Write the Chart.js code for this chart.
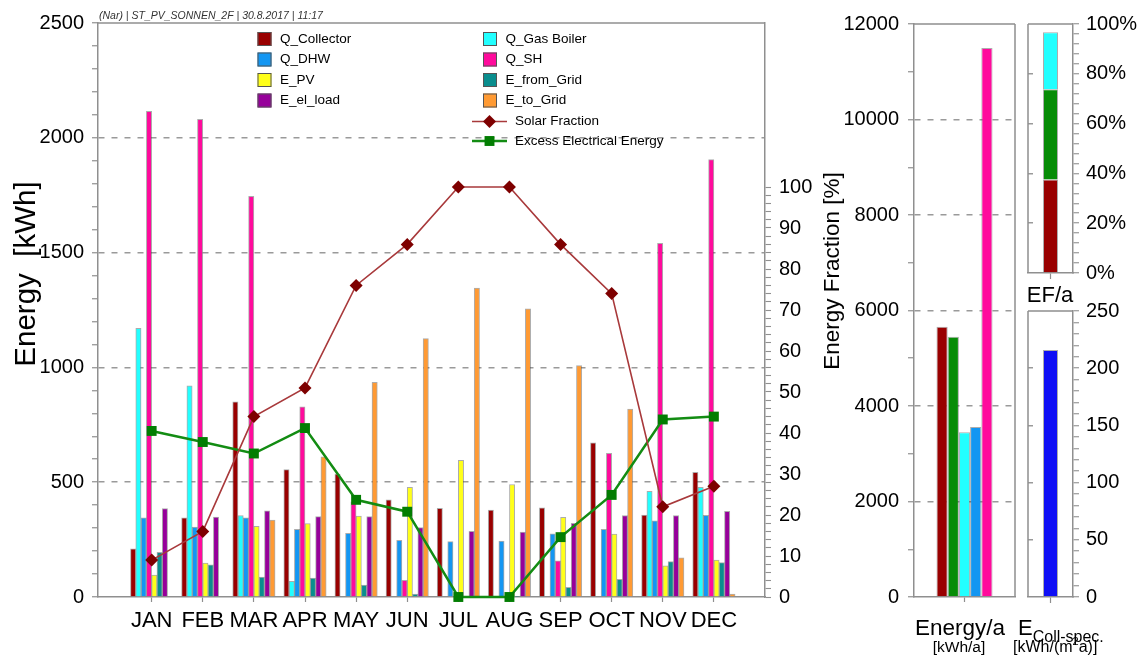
<!DOCTYPE html>
<html>
<head>
<meta charset="utf-8">
<script src="https://cdn.jsdelivr.net/npm/chart.js@4/dist/chart.umd.min.js"></script>
<style>
  html, body { margin: 0; padding: 0; background: #fff; }
  #wrap { position: relative; width: 1142px; height: 660px; overflow: hidden; }
  #wrap canvas { position: absolute; left: 0; top: 0; pointer-events: none; }
</style>
</head>
<body>
<div id="wrap">
  <canvas id="cMain" width="1142" height="660"></canvas>
  <canvas id="cYear" width="1142" height="660"></canvas>
  <canvas id="cEF" width="1142" height="660"></canvas>
  <canvas id="cSpec" width="1142" height="660"></canvas>
</div>
<script>
// ---- monthly values [kWh] ----
const months = ['JAN', 'FEB', 'MAR', 'APR', 'MAY', 'JUN', 'JUL', 'AUG', 'SEP', 'OCT', 'NOV', 'DEC'];
const qCollector = [210, 345, 850, 555, 535, 423, 386, 379, 388, 672, 357, 543];
const qGasBoiler = [1170, 920, 355, 68, 0, 0, 0, 0, 0, 0, 460, 478];
const qDHW       = [345, 305, 345, 295, 277, 247, 241, 244, 275, 295, 332, 356];
const qSH        = [2115, 2080, 1745, 828, 415, 73, 0, 0, 157, 626, 1540, 1905];
const ePV        = [95, 148, 308, 320, 352, 478, 595, 490, 347, 274, 136, 161];
const eFromGrid  = [195, 140, 87, 82, 52, 13, 0, 3, 42, 77, 154, 150];
const eElLoad    = [385, 348, 375, 350, 350, 302, 286, 283, 321, 355, 355, 373];
const eToGrid    = [0, 0, 335, 610, 935, 1125, 1345, 1255, 1008, 818, 171, 13];
// ---- monthly fractions [%] ----
const solarFraction    = [9, 16, 44, 51, 76, 86, 100, 100, 86, 74, 22, 27];
const excessElectrical = [40.5, 37.8, 35.0, 41.2, 23.7, 20.8, 0, 0, 14.6, 24.9, 43.3, 44.0];
// ---- annual summary ----
const annualNames  = ['Q_Collector', 'Q_Solar', 'Q_Gas Boiler', 'Q_DHW', 'Q_SH'];
const annualEnergy = [5660, 5450, 3450, 3560, 11500];      // kWh/a
const efNames      = ['EF_Collector', 'EF_Solar', 'EF_Gas Boiler'];
const efShares     = [37.6, 36.2, 22.9];                    // %
const collSpec     = [216];                                 // kWh/(m2 a)

// ---- styling ----
const FONT = "'Liberation Sans', Arial, Helvetica, sans-serif";
const AXIS = '#8f8f8f';
const GRID = '#9a9a9a';
const EDGE = 'rgba(70,70,70,0.45)';
Chart.defaults.font.family = FONT;
Chart.defaults.color = '#000';

const barSeries = [
  { label: 'Q_Collector',  values: qCollector, color: '#990000' },
  { label: 'Q_Gas Boiler', values: qGasBoiler, color: '#22FFFF' },
  { label: 'Q_DHW',        values: qDHW,       color: '#1396F2' },
  { label: 'Q_SH',         values: qSH,        color: '#FF0A9C' },
  { label: 'E_PV',         values: ePV,        color: '#FFFF1A' },
  { label: 'E_from_Grid',  values: eFromGrid,  color: '#0A8E8E' },
  { label: 'E_el_load',    values: eElLoad,    color: '#96009A' },
  { label: 'E_to_Grid',    values: eToGrid,    color: '#FF9A33' }
];
const annualColors = ['#990000', '#078C07', '#22FFFF', '#1396F2', '#FF0A9C'];
const efColors = ['#990000', '#078C07', '#22FFFF'];

const toXY = arr => arr.map((v, i) => ({ x: i, y: v }));
const fixW = w => s => { s.width = w; };
const fixH = h => s => { s.height = h; };

// outline on chosen sides of the plot area
const frame = sides => ({
  id: 'frame',
  afterDraw(chart) {
    const { ctx, chartArea: a } = chart;
    ctx.save();
    ctx.strokeStyle = AXIS;
    ctx.lineWidth = 1.5;
    ctx.beginPath();
    if (sides.includes('top'))   { ctx.moveTo(a.left, a.top);  ctx.lineTo(a.right, a.top); }
    if (sides.includes('left'))  { ctx.moveTo(a.left, a.top);  ctx.lineTo(a.left, a.bottom); }
    if (sides.includes('right')) { ctx.moveTo(a.right, a.top); ctx.lineTo(a.right, a.bottom); }
    ctx.stroke();
    ctx.restore();
  }
});

function marker(ctx, style, x, y, r) {
  ctx.beginPath();
  if (style === 'rectRot') {
    ctx.moveTo(x - r, y); ctx.lineTo(x, y - r); ctx.lineTo(x + r, y); ctx.lineTo(x, y + r);
  } else {
    const h = r * Math.SQRT1_2;
    ctx.rect(x - h, y - h, 2 * h, 2 * h);
  }
  ctx.closePath();
  ctx.fill();
}

// two-column key inside the monthly plot
const seriesKey = {
  id: 'seriesKey',
  afterDraw(chart) {
    const ctx = chart.ctx;
    const ds = chart.data.datasets;
    const colX = [257.5, 483];
    const rowY = [39, 59.5, 80, 100.5];
    const box = 14;
    ctx.save();
    ctx.font = `13.5px ${FONT}`;
    ctx.textBaseline = 'middle';
    ds.filter(d => d.type === 'bar').forEach((d, i) => {
      const x = colX[i % 2], y = rowY[Math.floor(i / 2)];
      ctx.fillStyle = d.backgroundColor;
      ctx.fillRect(x, y - box / 2, box, box);
      ctx.strokeStyle = '#555';
      ctx.lineWidth = 1;
      ctx.strokeRect(x + 0.5, y - box / 2 + 0.5, box - 1, box - 1);
      ctx.fillStyle = '#000';
      ctx.fillText(d.label, x + box + 8.5, y);
    });
    ds.filter(d => d.type === 'line').forEach((d, i) => {
      const y = [121.5, 141][i];
      ctx.strokeStyle = d.borderColor;
      ctx.lineWidth = d.borderWidth;
      ctx.beginPath(); ctx.moveTo(472, y); ctx.lineTo(507, y); ctx.stroke();
      ctx.fillStyle = d.pointBackgroundColor;
      marker(ctx, d.pointStyle, 489.5, y, d.pointRadius);
      ctx.fillStyle = '#000';
      ctx.fillText(d.label, 515, y);
    });
    ctx.restore();
  }
};

// ---------------- monthly chart ----------------
new Chart(document.getElementById('cMain'), {
  type: 'bar',
  data: {
    datasets: [
      ...barSeries.map(s => ({
        type: 'bar', label: s.label, data: toXY(s.values),
        backgroundColor: s.color, borderColor: EDGE, borderWidth: 1,
        barThickness: 5.3, xAxisID: 'x', yAxisID: 'y', order: 1
      })),
      {
        type: 'line', label: 'Solar Fraction', data: toXY(solarFraction),
        xAxisID: 'x', yAxisID: 'y1', order: 0, clip: false,
        borderColor: '#A8393B', borderWidth: 1.6, tension: 0,
        pointStyle: 'rectRot', pointRadius: 6.5, pointBorderWidth: 0,
        pointBackgroundColor: '#7E0000', pointBorderColor: '#7E0000'
      },
      {
        type: 'line', label: 'Excess Electrical Energy', data: toXY(excessElectrical),
        xAxisID: 'x', yAxisID: 'y1', order: 0, clip: false,
        borderColor: '#138C13', borderWidth: 2.5, tension: 0,
        pointStyle: 'rect', pointRadius: 7, pointBorderWidth: 0,
        pointBackgroundColor: '#027D02', pointBorderColor: '#027D02'
      }
    ]
  },
  options: {
    responsive: false, animation: false, devicePixelRatio: 1,
    layout: { padding: { top: 23, left: 0, right: 0, bottom: 0 } },
    plugins: { legend: { display: false }, tooltip: { enabled: false } },
    scales: {
      x: {
        type: 'linear', min: -1.05, max: 12, offset: false, afterFit: fixH(63),
        ticks: {
          stepSize: 1, includeBounds: false, autoSkip: false, maxRotation: 0, minRotation: 0,
          font: { size: 22 }, color: '#000', padding: 6,
          callback: v => months[Math.round(v)] || ''
        },
        grid: {
          offset: false, drawOnChartArea: false, tickLength: 5, tickWidth: 1.2,
          tickColor: c => (c.tick && months[Math.round(c.tick.value)]) ? AXIS : 'rgba(0,0,0,0)'
        },
        border: { color: AXIS, width: 1.5 }
      },
      y: {
        type: 'linear', position: 'left', min: 0, max: 2500, afterFit: fixW(98),
        ticks: {
          stepSize: 100, autoSkip: false, font: { size: 20 }, color: '#000', padding: 8,
          callback: v => (v % 500 === 0 ? String(v) : '')
        },
        grid: {
          lineWidth: 1.5, tickLength: 6, tickWidth: 1.2, tickColor: AXIS,
          color: c => (c.tick && c.tick.value % 500 === 0 && c.tick.value > 0 && c.tick.value < 2500) ? GRID : 'rgba(0,0,0,0)'
        },
        border: { color: AXIS, width: 1.5, dash: [6, 7] }
      },
      y1: {
        type: 'linear', position: 'right', min: 0, max: 140, afterFit: fixW(377),
        ticks: {
          stepSize: 2, autoSkip: false, font: { size: 20 }, color: '#000', padding: 8,
          callback: v => (v % 10 === 0 && v <= 100 ? String(v) : '')
        },
        grid: {
          drawOnChartArea: false, tickLength: 6, tickWidth: 1.1,
          tickColor: c => (c.tick && c.tick.value <= 100) ? AXIS : 'rgba(0,0,0,0)'
        },
        border: { color: AXIS, width: 1.5 }
      }
    }
  },
  plugins: [frame(['top']), seriesKey]
});

// ---------------- annual energy ----------------
new Chart(document.getElementById('cYear'), {
  type: 'bar',
  data: {
    labels: [''],
    datasets: annualEnergy.map((v, i) => ({
      label: annualNames[i], data: [v], backgroundColor: annualColors[i],
      borderColor: EDGE, borderWidth: 1, barPercentage: 1, categoryPercentage: 0.555
    }))
  },
  options: {
    responsive: false, animation: false, devicePixelRatio: 1,
    layout: { padding: { top: 24, left: 0, right: 127, bottom: 0 } },
    plugins: { legend: { display: false }, tooltip: { enabled: false } },
    scales: {
      x: {
        afterFit: fixH(63), ticks: { display: false },
        grid: { offset: false, drawOnChartArea: false, tickLength: 5, tickColor: AXIS, tickWidth: 1.2 },
        border: { color: AXIS, width: 1.5 }
      },
      y: {
        min: 0, max: 12000, afterFit: fixW(914),
        ticks: {
          stepSize: 1000, autoSkip: false, font: { size: 20 }, color: '#000', padding: 9,
          callback: v => (v % 2000 === 0 ? String(v) : '')
        },
        grid: {
          lineWidth: 1.5, tickLength: 6, tickWidth: 1.2, tickColor: AXIS,
          color: c => (c.tick && c.tick.value % 2000 === 0 && c.tick.value > 0 && c.tick.value < 12000) ? GRID : 'rgba(0,0,0,0)'
        },
        border: { color: AXIS, width: 1.5, dash: [6, 7] }
      }
    }
  },
  plugins: [frame(['top', 'right'])]
});

// ---------------- energy fractions (stacked) ----------------
new Chart(document.getElementById('cEF'), {
  type: 'bar',
  data: {
    labels: [''],
    datasets: efShares.map((v, i) => ({
      label: efNames[i], data: [v], backgroundColor: efColors[i],
      borderColor: EDGE, borderWidth: 1, barPercentage: 1, categoryPercentage: 0.333
    }))
  },
  options: {
    responsive: false, animation: false, devicePixelRatio: 1,
    layout: { padding: { top: 24, left: 1028, right: 0, bottom: 0 } },
    plugins: { legend: { display: false }, tooltip: { enabled: false } },
    scales: {
      x: {
        stacked: true, afterFit: fixH(387), ticks: { display: false },
        grid: { offset: false, drawOnChartArea: false, tickLength: 6, tickColor: AXIS, tickWidth: 1.2 },
        border: { color: AXIS, width: 1.5 }
      },
      y: {
        stacked: true, position: 'right', min: 0, max: 100, afterFit: fixW(69),
        ticks: {
          stepSize: 4, autoSkip: false, font: { size: 20 }, color: '#000', padding: 7,
          callback: v => (v % 20 === 0 ? v + '%' : '')
        },
        grid: {
          lineWidth: 1.5, tickLength: 6, tickWidth: 1.1, tickColor: AXIS,
          color: c => (c.tick && c.tick.value % 20 === 0 && c.tick.value > 0 && c.tick.value < 100) ? GRID : 'rgba(0,0,0,0)'
        },
        border: { color: AXIS, width: 1.5, dash: [5, 80] }
      }
    }
  },
  plugins: [frame(['top', 'left'])]
});

// ---------------- specific collector yield + panel captions ----------------
const captions = {
  id: 'captions',
  afterDraw(chart) {
    const ctx = chart.ctx;
    ctx.save();

    ctx.font = `italic 10.5px ${FONT}`;
    ctx.fillStyle = '#333';
    ctx.textAlign = 'left';
    ctx.textBaseline = 'alphabetic';
    ctx.fillText('(Nar) | ST_PV_SONNEN_2F | 30.8.2017 | 11:17', 99, 19);
    ctx.fillStyle = '#000';

    // rotated axis titles
    ctx.save();
    ctx.translate(35, 274);
    ctx.rotate(-Math.PI / 2);
    ctx.textAlign = 'center';
    ctx.font = `29.5px ${FONT}`;
    ctx.fillText('Energy  [kWh]', 0, 0);
    ctx.restore();

    ctx.save();
    ctx.translate(839, 271);
    ctx.rotate(-Math.PI / 2);
    ctx.textAlign = 'center';
    ctx.font = `22.5px ${FONT}`;
    ctx.fillText('Energy Fraction [%]', 0, 0);
    ctx.restore();

    ctx.textAlign = 'center';
    ctx.font = `22.5px ${FONT}`;
    ctx.fillText('Energy/a', 960, 635);
    ctx.font = `15.5px ${FONT}`;
    ctx.fillText('[kWh/a]', 959, 652);
    ctx.font = `22px ${FONT}`;
    ctx.fillText('EF/a', 1050, 302);

    // E with subscript, unit with superscript
    ctx.textAlign = 'left';
    const runs = (x, y, parts) => {
      let cx = x;
      parts.forEach(p => {
        ctx.font = `${p.size}px ${FONT}`;
        ctx.fillText(p.text, cx, y + (p.dy || 0));
        cx += ctx.measureText(p.text).width;
      });
    };
    runs(1018, 635, [{ text: 'E', size: 22 }, { text: 'Coll-spec.', size: 16, dy: 7 }]);
    runs(1013, 652, [{ text: '[kWh/(m', size: 16 }, { text: '2', size: 11, dy: -7 }, { text: 'a)]', size: 16 }]);
    ctx.restore();
  }
};

new Chart(document.getElementById('cSpec'), {
  type: 'bar',
  data: {
    labels: [''],
    datasets: [{
      label: 'E_Coll-spec.', data: collSpec, backgroundColor: '#0F0FF5',
      borderColor: EDGE, borderWidth: 1, barPercentage: 1, categoryPercentage: 0.333
    }]
  },
  options: {
    responsive: false, animation: false, devicePixelRatio: 1,
    layout: { padding: { top: 311, left: 1028, right: 0, bottom: 0 } },
    plugins: { legend: { display: false }, tooltip: { enabled: false } },
    scales: {
      x: {
        afterFit: fixH(63), ticks: { display: false },
        grid: { offset: false, drawOnChartArea: false, tickLength: 6, tickColor: AXIS, tickWidth: 1.2 },
        border: { color: AXIS, width: 1.5 }
      },
      y: {
        position: 'right', min: 0, max: 250, afterFit: fixW(69),
        ticks: {
          stepSize: 10, autoSkip: false, font: { size: 20 }, color: '#000', padding: 7,
          callback: v => (v % 50 === 0 ? String(v) : '')
        },
        grid: {
          lineWidth: 1.5, tickLength: 6, tickWidth: 1.1, tickColor: AXIS,
          color: c => (c.tick && c.tick.value % 50 === 0 && c.tick.value > 0 && c.tick.value < 250) ? GRID : 'rgba(0,0,0,0)'
        },
        border: { color: AXIS, width: 1.5, dash: [5, 80] }
      }
    }
  },
  plugins: [frame(['top', 'left']), captions]
});
</script>
</body>
</html>
